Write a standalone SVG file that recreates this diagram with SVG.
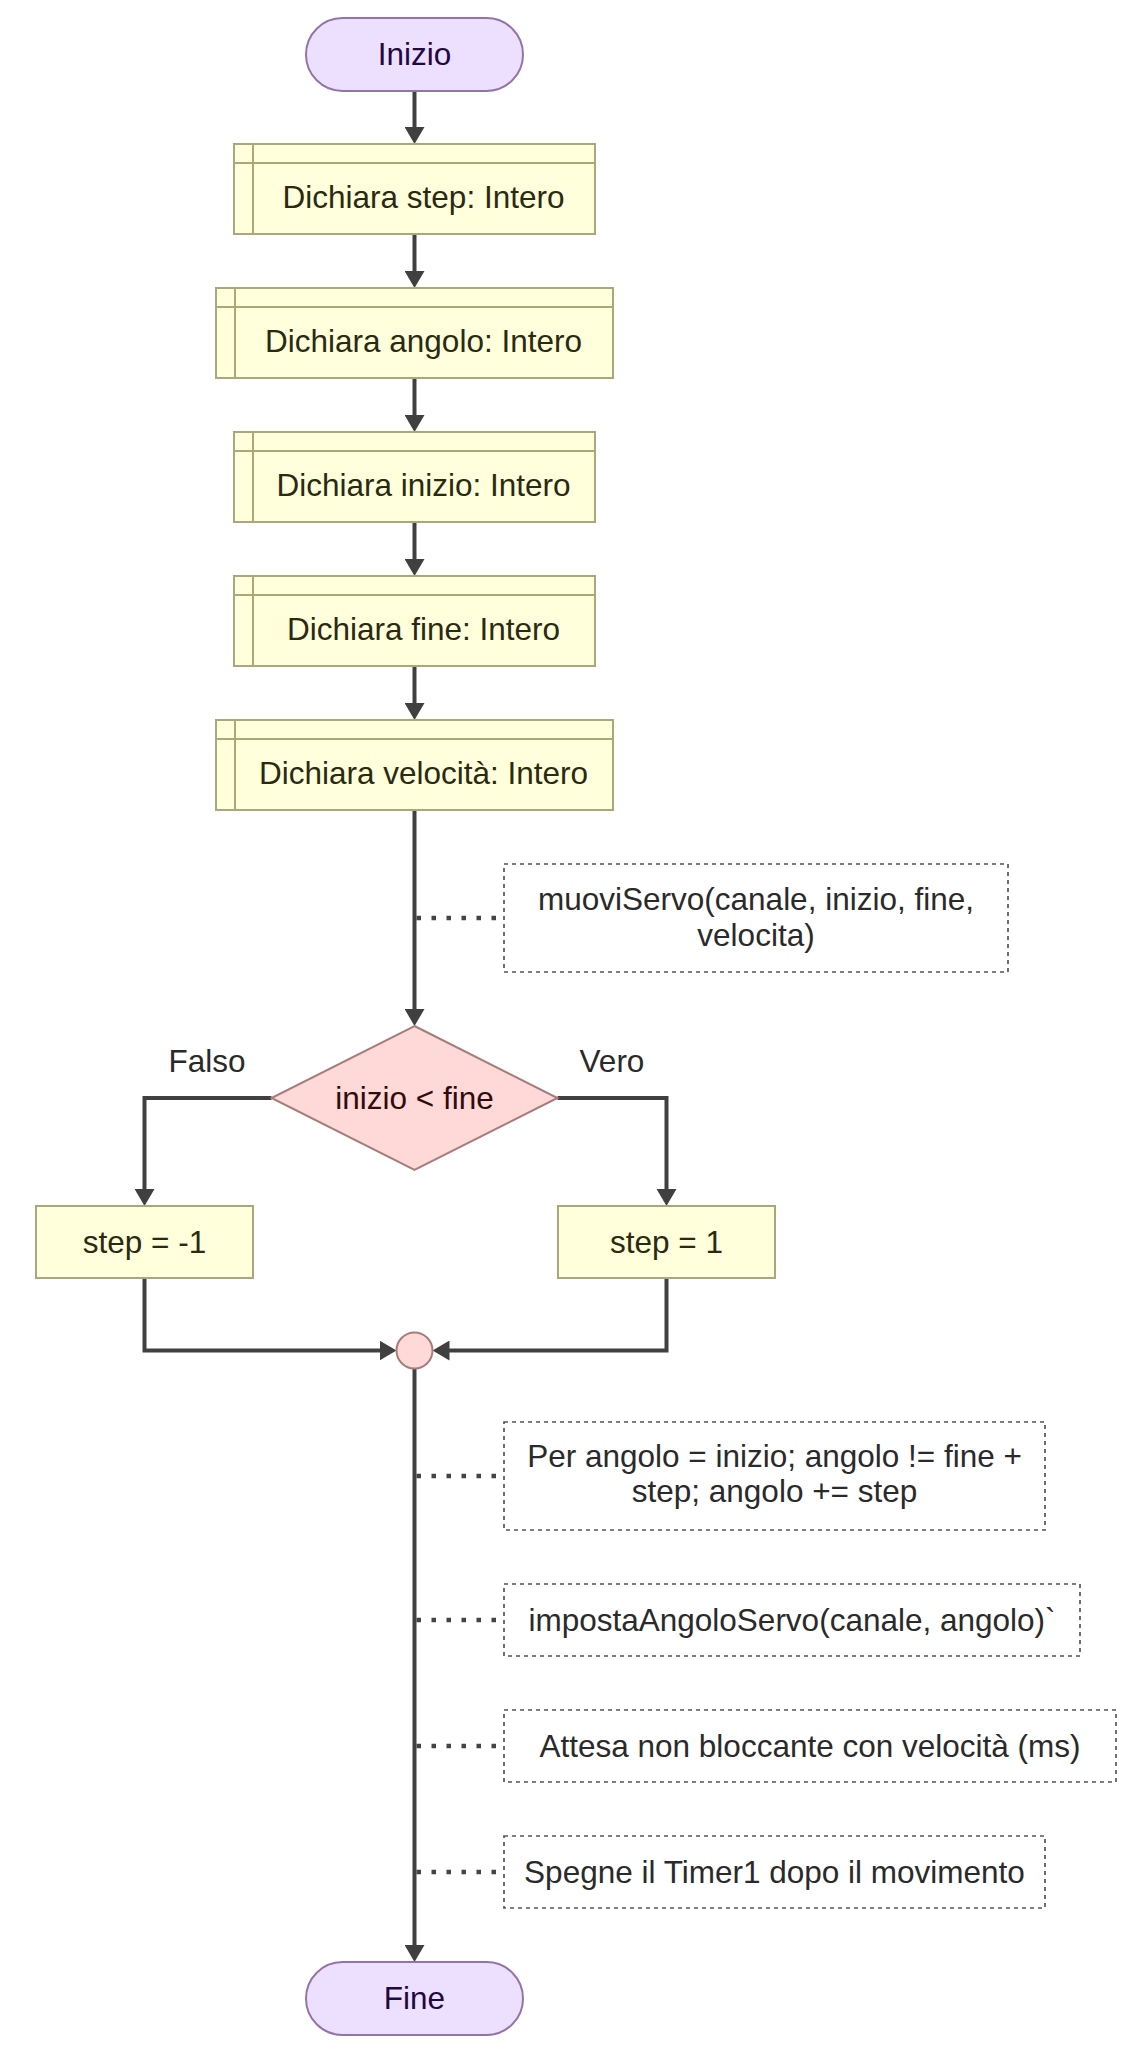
<svg xmlns="http://www.w3.org/2000/svg" width="1135" height="2053" viewBox="0 0 1135 2053">
<style>
text { font-family: "Liberation Sans", Arial, sans-serif; font-size: 31.5px; text-anchor: middle; }
.pill { fill: #ede0ff; stroke: #9474a8; stroke-width: 2; }
.pill-t { fill: #220840; }
.box { fill: #ffffdc; stroke: #a8a87a; stroke-width: 2; }
.box-t { fill: #2a2a10; }
.dec { fill: #ffd8d8; stroke: #a67c7c; stroke-width: 2; }
.dec-t { fill: #300c0c; }
.note { fill: #ffffff; stroke: #555555; stroke-width: 1.7; stroke-dasharray: 4 4; }
.note-t { fill: #2a2a2a; }
.lbl { fill: #2a2a2a; }
.edge { fill: none; stroke: #404040; stroke-width: 4; marker-end: url(#arr); }
.dot { fill: none; stroke: #444444; stroke-width: 4.5; stroke-dasharray: 4.5 10.5; }
</style>
<defs>
<marker id="arr" viewBox="0 0 17 20" refX="7" refY="10" markerWidth="17" markerHeight="20" markerUnits="userSpaceOnUse" orient="auto">
<path d="M0,0 L17,10 L0,20 z" fill="#404040"/>
</marker>
</defs>
<rect width="1135" height="2053" fill="#ffffff"/>

<g id="connectors">
<path class="edge" d="M414.5,91 V134"/>
<path class="edge" d="M414.5,234 V278"/>
<path class="edge" d="M414.5,378 V422"/>
<path class="edge" d="M414.5,522 V566"/>
<path class="edge" d="M414.5,666 V710"/>
<path class="edge" d="M414.5,810 V1016"/>
<path class="edge" d="M271.5,1098 H144.5 V1196"/>
<path class="edge" d="M557.5,1098 H666.5 V1196"/>
<path class="edge" d="M144.5,1278 V1350.5 H386.5"/>
<path class="edge" d="M666.5,1278 V1350.5 H442.5"/>
<path class="edge" d="M414.5,1368.5 V1952"/>
<path class="dot" d="M416.5,918 H504"/>
<path class="dot" d="M416.5,1476 H504"/>
<path class="dot" d="M416.5,1620 H504"/>
<path class="dot" d="M416.5,1746 H504"/>
<path class="dot" d="M416.5,1872 H504"/>
<text class="lbl" x="207" y="1072">Falso</text>
<text class="lbl" x="612" y="1072">Vero</text>
</g>

<g id="start">
<rect class="pill" x="306" y="18" width="217" height="73" rx="36.5"/>
<text class="pill-t" x="414.5" y="65">Inizio</text>
</g>

<g id="decl_step">
<rect class="box" x="234" y="144" width="361" height="90"/>
<path class="box" d="M253,144 V234 M234,163 H595"/>
<text class="box-t" x="423.5" y="208">Dichiara step: Intero</text>
</g>

<g id="decl_angolo">
<rect class="box" x="216" y="288" width="397" height="90"/>
<path class="box" d="M235,288 V378 M216,307 H613"/>
<text class="box-t" x="423.5" y="352">Dichiara angolo: Intero</text>
</g>

<g id="decl_inizio">
<rect class="box" x="234" y="432" width="361" height="90"/>
<path class="box" d="M253,432 V522 M234,451 H595"/>
<text class="box-t" x="423.5" y="496">Dichiara inizio: Intero</text>
</g>

<g id="decl_fine">
<rect class="box" x="234" y="576" width="361" height="90"/>
<path class="box" d="M253,576 V666 M234,595 H595"/>
<text class="box-t" x="423.5" y="640">Dichiara fine: Intero</text>
</g>

<g id="decl_velocita">
<rect class="box" x="216" y="720" width="397" height="90"/>
<path class="box" d="M235,720 V810 M216,739 H613"/>
<text class="box-t" x="423.5" y="784">Dichiara velocità: Intero</text>
</g>

<g id="note_muovi">
<rect class="note" x="504" y="864" width="504" height="108"/>
<text class="note-t" x="756" y="910">muoviServo(canale, inizio, fine,</text>
<text class="note-t" x="756" y="946">velocita)</text>
</g>

<g id="cond">
<polygon class="dec" points="414.5,1026 557.5,1098 414.5,1170 271.5,1098"/>
<text class="dec-t" x="414.5" y="1108.5">inizio &lt; fine</text>
</g>

<g id="step_neg">
<rect class="box" x="36" y="1206" width="217" height="72"/>
<text class="box-t" x="144.5" y="1252.5">step = -1</text>
</g>

<g id="step_pos">
<rect class="box" x="558" y="1206" width="217" height="72"/>
<text class="box-t" x="666.5" y="1252.5">step = 1</text>
</g>

<g id="merge">
<circle class="dec" cx="414.5" cy="1350.5" r="18"/>
</g>

<g id="note_for">
<rect class="note" x="504" y="1422" width="541" height="108"/>
<text class="note-t" x="774.5" y="1467">Per angolo = inizio; angolo != fine +</text>
<text class="note-t" x="774.5" y="1502">step; angolo += step</text>
</g>

<g id="note_imposta">
<rect class="note" x="504" y="1584" width="576" height="72"/>
<text class="note-t" x="792" y="1631">impostaAngoloServo(canale, angolo)`</text>
</g>

<g id="note_attesa">
<rect class="note" x="504" y="1710" width="612" height="72"/>
<text class="note-t" x="810" y="1757">Attesa non bloccante con velocità (ms)</text>
</g>

<g id="note_spegne">
<rect class="note" x="504" y="1836" width="541" height="72"/>
<text class="note-t" x="774.5" y="1883">Spegne il Timer1 dopo il movimento</text>
</g>

<g id="end">
<rect class="pill" x="306" y="1962" width="217" height="73" rx="36.5"/>
<text class="pill-t" x="414.5" y="2009">Fine</text>
</g>
</svg>
